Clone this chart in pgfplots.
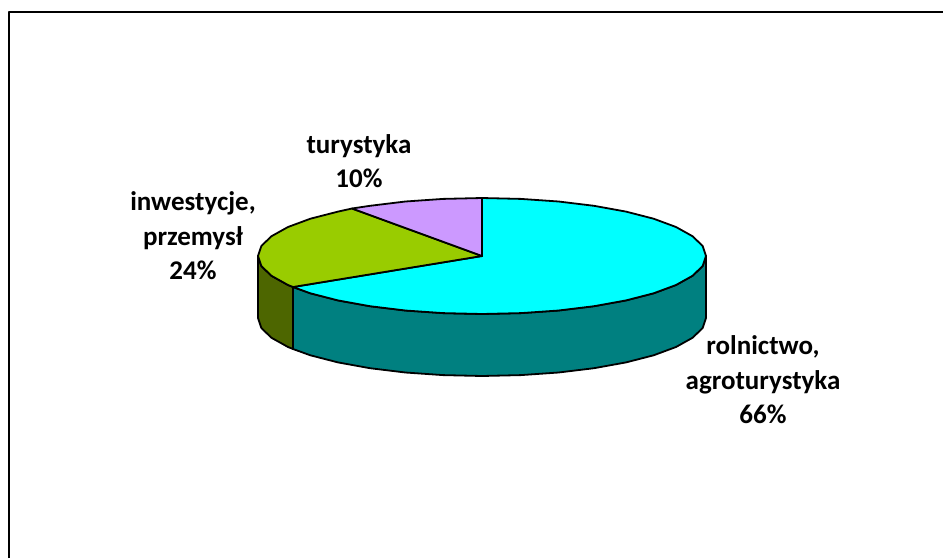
\documentclass[border=0pt]{standalone}
\usepackage{fontspec}
\setmainfont{Carlito}
\usepackage{pgfplots}
\pgfplotsset{compat=1.18}
\definecolor{rolnTop}{HTML}{00FFFF}
\definecolor{rolnSide}{HTML}{008080}
\definecolor{inwTop}{HTML}{99CC00}
\definecolor{inwSide}{HTML}{4D6600}
\definecolor{turTop}{HTML}{CC99FF}
\tikzset{lbl/.style={font=\fontsize{27}{34.5}\selectfont\bfseries, align=center, anchor=center, inner sep=0pt}}
\begin{document}
\begin{tikzpicture}
\begin{axis}[
  scale only axis,
  width=943pt,
  height=558pt,
  xmin=0, xmax=943,
  ymin=0, ymax=558,
  y dir=reverse,
  hide axis,
  clip=false,
  every axis plot/.append style={line width=1.8pt, line join=round},
]
% frame, only top and left show
\addplot[black, line width=2.4pt] coordinates {(9,558) (9,12) (943,12)};
% rim, 66 percent
\addplot[fill=rolnSide, draw=black] coordinates {
  (706,256) (702.6,266.1) (692.5,275.8) (676,285) (653.6,293.3) (626,300.4)
  (594,306.2) (558.6,310.5) (520.9,313.1) (482,314) (443.1,313.1) (405.4,310.5)
  (370,306.2) (338,300.4) (310.4,293.3) (293,287)
  (293,349) (310.4,355.3) (338,362.4) (370,368.2) (405.4,372.5) (443.1,375.1)
  (482,376) (520.9,375.1) (558.6,372.5) (594,368.2) (626,362.4) (653.6,355.3)
  (676,347) (692.5,337.8) (702.6,328.1) (706,318)
} -- cycle;
% rim, 24 percent
\addplot[fill=inwSide, draw=black] coordinates {
  (293,287) (288,285) (271.5,275.8) (261.4,266.1) (258,256)
  (258,318) (261.4,328.1) (271.5,337.8) (288,347) (293,349)
} -- cycle;
% top, rolnictwo
\addplot[fill=rolnTop, draw=black] coordinates {
  (482,256) (482,198) (520.9,198.9) (558.6,201.5) (594,205.8) (626,211.6)
  (653.6,218.7) (676,227) (692.5,236.2) (702.6,245.9) (706,256) (702.6,266.1)
  (692.5,275.8) (676,285) (653.6,293.3) (626,300.4) (594,306.2) (558.6,310.5)
  (520.9,313.1) (482,314) (443.1,313.1) (405.4,310.5) (370,306.2) (338,300.4)
  (310.4,293.3) (293,287)
} -- cycle;
% top, inwestycje
\addplot[fill=inwTop, draw=black] coordinates {
  (482,256) (293,287) (288,285) (271.5,275.8) (261.4,266.1) (258,256)
  (261.4,245.9) (271.5,236.2) (288,227) (310.4,218.7) (338,211.6) (352,208.5)
} -- cycle;
% top, turystyka
\addplot[fill=turTop, draw=black] coordinates {
  (482,256) (352,208.5) (370,205.8) (405.4,201.5) (443.1,198.9) (482,198)
} -- cycle;
\node[lbl] at (axis cs:359,161) {turystyka\\10\%};
\node[lbl] at (axis cs:193,236) {inwestycje,\\przemysł\\24\%};
\node[lbl] at (axis cs:763,380) {rolnictwo,\\agroturystyka\\66\%};
\end{axis}
\pgfresetboundingbox
\path[use as bounding box] (current axis.south west) rectangle (current axis.north east);
\end{tikzpicture}
\end{document}
